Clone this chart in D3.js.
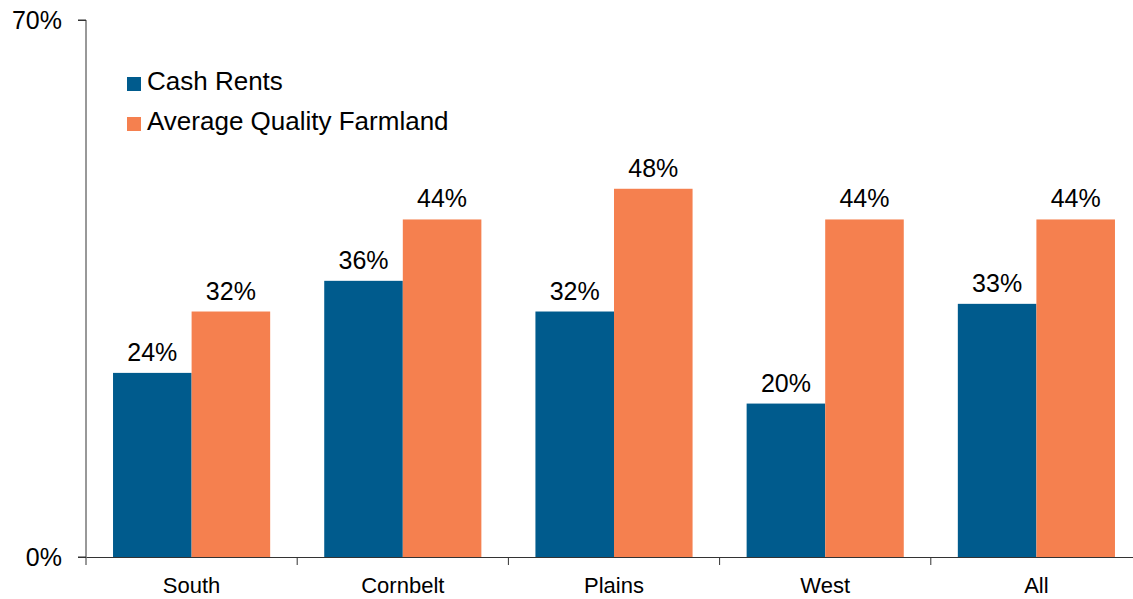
<!DOCTYPE html>
<html>
<head>
<meta charset="utf-8">
<script src="https://cdn.jsdelivr.net/npm/d3@7"></script>
<style>
  body { margin: 0; background: #fff; }
  svg { display: block; font-family: "Liberation Sans", Arial, sans-serif; }
</style>
</head>
<body>
<div id="chart"></div>
<script>
const categories = ["South", "Cornbelt", "Plains", "West", "All"]
const seriesNames = ["Cash Rents", "Average Quality Farmland"]
const cashRents = [24, 36, 32, 20, 33]
const farmland = [32, 44, 48, 44, 44]
const yTicks = [0, 70]
const colors = ["#005b8d", "#f5804f"]

const width = 1133, height = 599
const margin = {top: 20, right: -9, bottom: 42, left: 86}

const svg = d3.select("#chart").append("svg")
    .attr("width", width)
    .attr("height", height)

const x = d3.scaleBand()
    .domain(categories)
    .range([margin.left, width - margin.right])

const x1 = d3.scaleBand()
    .domain(seriesNames)
    .range([0, x.bandwidth()])
    .paddingOuter(0.344)

const y = d3.scaleLinear()
    .domain([0, 70])
    .range([height - margin.bottom, margin.top])

const data = categories.map((c, i) => ({cat: c, values: [cashRents[i], farmland[i]]}))

// bars
const groups = svg.append("g").selectAll("g")
    .data(data)
    .join("g")
    .attr("transform", d => `translate(${x(d.cat)},0)`)

groups.selectAll("rect")
    .data(d => d.values.map((v, j) => ({name: seriesNames[j], v: v, j: j})))
    .join("rect")
    .attr("x", d => x1(d.name))
    .attr("width", x1.bandwidth())
    .attr("y", d => y(d.v))
    .attr("height", d => y(0) - y(d.v))
    .attr("fill", d => colors[d.j])

groups.selectAll("text")
    .data(d => d.values.map((v, j) => ({name: seriesNames[j], v: v})))
    .join("text")
    .attr("x", d => x1(d.name) + x1.bandwidth() / 2)
    .attr("y", d => y(d.v) - 12)
    .attr("text-anchor", "middle")
    .style("font-size", "25px")
    .attr("fill", "#000")
    .text(d => d.v + "%")

// y axis
const yAxis = svg.append("g")
    .attr("transform", `translate(${margin.left},0)`)
    .call(d3.axisLeft(y).tickValues(yTicks).tickSize(8).tickPadding(16).tickFormat(d => d + "%"))
yAxis.select(".domain").attr("stroke", "#333").attr("d", `M-8,${y(70)}H0V${y(0)}H-8`)
yAxis.selectAll(".tick line").attr("stroke", "#333")
yAxis.selectAll(".tick text").style("font-size", "25px").attr("fill", "#000")

// x axis
const xAxis = svg.append("g")
    .attr("transform", `translate(0,${y(0)})`)
    .call(d3.axisBottom(x).tickSize(0).tickPadding(20))
xAxis.select(".domain").attr("stroke", "#333")
xAxis.selectAll(".tick text").style("font-size", "22px").attr("fill", "#000")
xAxis.selectAll(".edge")
    .data(categories)
    .join("line")
    .attr("class", "edge")
    .attr("x1", d => x(d))
    .attr("x2", d => x(d))
    .attr("y1", 0)
    .attr("y2", 8)
    .attr("stroke", "#333")

// legend
const legend = svg.append("g").selectAll("g")
    .data(seriesNames)
    .join("g")
    .attr("transform", (d, i) => `translate(127,${77 + i * 40})`)
legend.append("rect")
    .attr("width", 14)
    .attr("height", 14)
    .attr("fill", (d, i) => colors[i])
legend.append("text")
    .attr("x", 20)
    .attr("y", 13)
    .style("font-size", "26px")
    .attr("fill", "#000")
    .text(d => d)
</script>
</body>
</html>
